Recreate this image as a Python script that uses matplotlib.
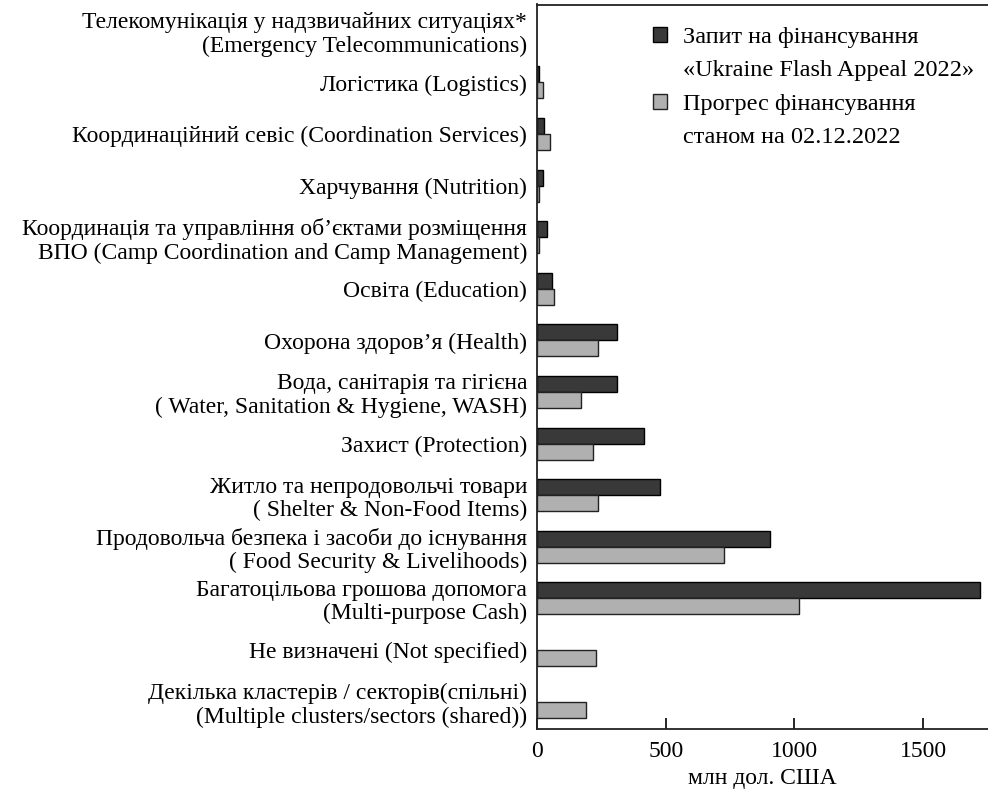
import numpy as np
import matplotlib
matplotlib.use("Agg")
import matplotlib.pyplot as plt
from matplotlib.patches import Patch

plt.rcParams['font.family'] = ['Liberation Serif', 'DejaVu Serif']

kategorier = [
    "Телекомунікація у надзвичайних ситуаціях*\n(Emergency Telecommunications)",
    "Логістика (Logistics)",
    "Координаційний севіс (Coordination Services)",
    "Харчування (Nutrition)",
    "Координація та управління об’єктами розміщення\nВПО (Camp Coordination and Camp Management)",
    "Освіта (Education)",
    "Охорона здоров’я (Health)",
    "Вода, санітарія та гігієна\n( Water, Sanitation & Hygiene, WASH)",
    "Захист (Protection)",
    "Житло та непродовольчі товари\n( Shelter & Non-Food Items)",
    "Продовольча безпека і засоби до існування\n( Food Security & Livelihoods)",
    "Багатоцільова грошова допомога\n(Multi-purpose Cash)",
    "Не визначені (Not specified)",
    "Декілька кластерів / секторів(спільні)\n(Multiple clusters/sectors (shared))",
]

# млн дол. США
запит = [np.nan, 8, 27, 24, 39, 58, 310, 310, 414, 479, 905, 1722, np.nan, np.nan]
прогрес = [np.nan, 25, 50, 7, 8, 67, 237, 171, 219, 236, 725, 1019, 229, 190]

xticks = [0, 500, 1000, 1500]

mørk = "#393939"
lys = "#b0b0b0"
fs = 17

fig = plt.figure(figsize=(9.88, 7.95), dpi=100)
ax = fig.add_axes([537/988, 1 - 728.5/795, 1 - 537/988, (728.5 - 4.5)/795])

y = np.arange(len(kategorier))
h = 0.31
ax.barh(y - h/2, запит, height=h, color=mørk, edgecolor="black", linewidth=1)
ax.barh(y + h/2, прогрес, height=h, color=lys, edgecolor="#222222", linewidth=1)

ax.set_ylim(13.52, -0.51)
ax.set_xlim(0, 1752)
ax.set_yticks(y)
ax.set_yticklabels(kategorier, fontsize=fs, ha="right", linespacing=1.15)
ax.tick_params(axis="y", length=0, pad=7)
ax.set_xticks(xticks)
ax.set_xticklabels([str(t) for t in xticks], fontsize=fs)
ax.tick_params(axis="x", direction="in", length=8, width=1.2, pad=9)
ax.set_xlabel("млн дол. США", fontsize=fs, labelpad=4)

ax.spines["right"].set_visible(False)
for s in ["left", "top", "bottom"]:
    ax.spines[s].set_linewidth(1.3)
    ax.spines[s].set_color("#222222")

handles = [
    Patch(facecolor=mørk, edgecolor="black"),
    Patch(facecolor="none", edgecolor="none"),
    Patch(facecolor=lys, edgecolor="#222222"),
    Patch(facecolor="none", edgecolor="none"),
]
labels = ["Запит на фінансування", "«Ukraine Flash Appeal 2022»",
          "Прогрес фінансування", "станом на 02.12.2022"]
leg = fig.legend(handles, labels, loc="upper left", bbox_to_anchor=(653/988, 1 - 27/795),
                 frameon=False, fontsize=17.5, handlelength=0.58, handleheight=0.58,
                 handletextpad=0.65, labelspacing=0.5, borderaxespad=0, borderpad=0)

fig.savefig("out.png", dpi=100)
